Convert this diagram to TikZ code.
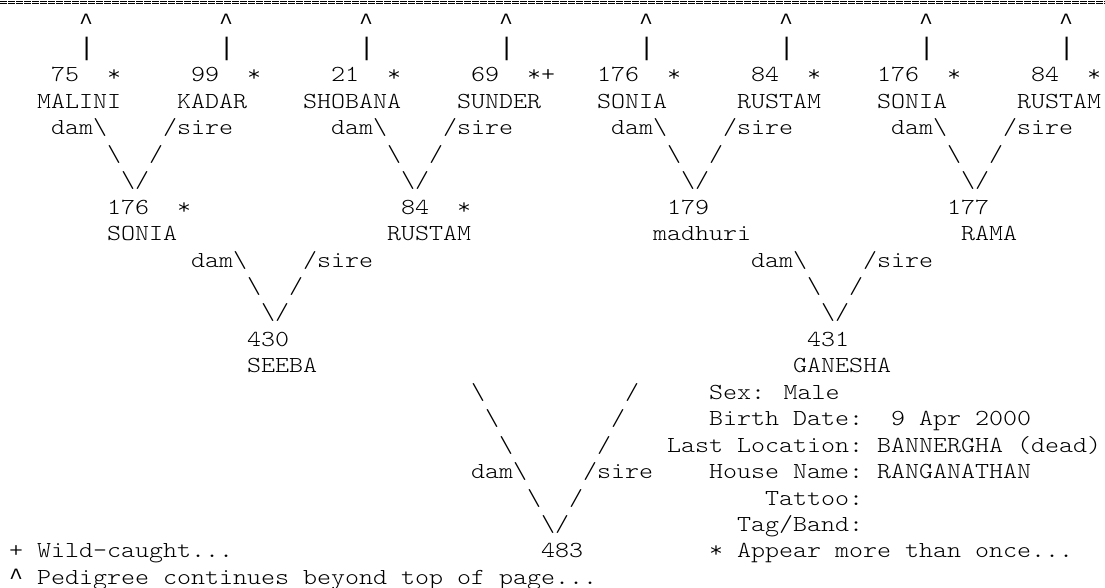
\documentclass[tikz,border=0pt]{standalone}
\usepackage{fontspec}
\newfontfamily\pedfont{lmmonolt10-regular.otf}[FakeStretch=1.163]
\newfontfamily\markfont{Liberation Mono}
\newcommand\bs{\textbackslash}
\newcommand\caret{{\markfont\fontsize{17.5pt}{19.8pt}\selectfont\textasciicircum}}
\newcommand\vbar{{\markfont\fontsize{19pt}{19.8pt}\selectfont|}}
\newcommand\pedtok[4]{\node[txt] (#1) at ({9+14*(#2)},{82+((#3)-3)*26.44}) {#4};}
\begin{document}
\begin{tikzpicture}[x=0.75pt,y=-0.75pt,
  txt/.style={anchor=base west,inner sep=0pt,outer sep=0pt,
    font=\pedfont\fontsize{17.2pt}{19.8pt}\selectfont},
  rule/.style={line width=0.7pt,dash pattern=on 4.9pt off 1.1pt}]
\useasboundingbox (0,0) rectangle (1105,588);
% page separator
\coordinate (ra1) at (0,1.0);   \coordinate (rb1) at (1105,1.0);
\coordinate (ra2) at (0,3.6);   \coordinate (rb2) at (1105,3.6);
\draw[rule] (ra1) -- (rb1);
\draw[rule] (ra2) -- (rb2);
% rows 1-2: continuation marks
\foreach \j in {0,...,7}{
  \pedtok{up\j}{5+10*\j}{1}{\caret}
  \pedtok{bar\j}{5+10*\j}{2}{\vbar}
}
% row 3: great-grandparents numbers
\pedtok{n75}{3}{3}{75}   \pedtok{st1}{7}{3}{*}
\pedtok{n99}{13}{3}{99}  \pedtok{st2}{17}{3}{*}
\pedtok{n21}{23}{3}{21}  \pedtok{st3}{27}{3}{*}
\pedtok{n69}{33}{3}{69}  \pedtok{st4}{37}{3}{*+}
\pedtok{n176a}{42}{3}{176} \pedtok{st5}{47}{3}{*}
\pedtok{n84a}{53}{3}{84}  \pedtok{st6}{57}{3}{*}
\pedtok{n176b}{62}{3}{176} \pedtok{st7}{67}{3}{*}
\pedtok{n84b}{73}{3}{84}  \pedtok{st8}{77}{3}{*}
% row 4: names
\pedtok{malini}{2}{4}{MALINI}
\pedtok{kadar}{12}{4}{KADAR}
\pedtok{shobana}{21}{4}{SHOBANA}
\pedtok{sunder}{32}{4}{SUNDER}
\pedtok{soniaA}{42}{4}{SONIA}
\pedtok{rustamA}{52}{4}{RUSTAM}
\pedtok{soniaB}{62}{4}{SONIA}
\pedtok{rustamB}{72}{4}{RUSTAM}
% rows 5-7: links to grandparents
\foreach \j in {0,...,3}{
  \pedtok{gdam\j}{3+20*\j}{5}{dam\bs}
  \pedtok{gsire\j}{11+20*\j}{5}{/sire}
  \pedtok{gl\j}{7+20*\j}{6}{\bs}
  \pedtok{gr\j}{10+20*\j}{6}{/}
  \pedtok{gv\j}{8+20*\j}{7}{\bs/}
}
% row 8-9: grandparents
\pedtok{n176}{7}{8}{176}  \pedtok{st9}{12}{8}{*}
\pedtok{n84}{28}{8}{84}   \pedtok{st10}{32}{8}{*}
\pedtok{n179}{47}{8}{179}
\pedtok{n177}{67}{8}{177}
\pedtok{sonia}{7}{9}{SONIA}
\pedtok{rustam}{27}{9}{RUSTAM}
\pedtok{madhuri}{46}{9}{madhuri}
\pedtok{rama}{68}{9}{RAMA}
% rows 10-12: links to parents
\foreach \j in {0,1}{
  \pedtok{pdam\j}{13+40*\j}{10}{dam\bs}
  \pedtok{psire\j}{21+40*\j}{10}{/sire}
  \pedtok{pl\j}{17+40*\j}{11}{\bs}
  \pedtok{pr\j}{20+40*\j}{11}{/}
  \pedtok{pv\j}{18+40*\j}{12}{\bs/}
}
% rows 13-14: parents
\pedtok{n430}{17}{13}{430}
\pedtok{n431}{57}{13}{431}
\pedtok{seeba}{17}{14}{SEEBA}
\pedtok{ganesha}{56}{14}{GANESHA}
% rows 15-20: links to subject
\pedtok{sl1}{33}{15}{\bs} \pedtok{sr1}{44}{15}{/}
\pedtok{sl2}{34}{16}{\bs} \pedtok{sr2}{43}{16}{/}
\pedtok{sl3}{35}{17}{\bs} \pedtok{sr3}{42}{17}{/}
\pedtok{sdam}{33}{18}{dam\bs} \pedtok{ssire}{41}{18}{/sire}
\pedtok{sl5}{37}{19}{\bs} \pedtok{sr5}{40}{19}{/}
\pedtok{sv}{38}{20}{\bs/}
% subject details
\pedtok{sex}{50}{15}{Sex: Male}
\pedtok{bdl}{50}{16}{Birth Date:}  \pedtok{bdv}{63}{16}{9 Apr 2000}
\pedtok{lll}{47}{17}{Last Location:} \pedtok{llv}{62}{17}{BANNERGHA (dead)}
\pedtok{hnl}{50}{18}{House Name:}  \pedtok{hnv}{62}{18}{RANGANATHAN}
\pedtok{tat}{54}{19}{Tattoo:}
\pedtok{tag}{52}{20}{Tag/Band:}
% row 21-22
\pedtok{wild}{0}{21}{+ Wild-caught...}
\pedtok{n483}{38}{21}{483}
\pedtok{appear}{50}{21}{* Appear more than once...}
\pedtok{cont}{0}{22}{\caret{} Pedigree continues beyond top of page...}
\end{tikzpicture}
\end{document}
